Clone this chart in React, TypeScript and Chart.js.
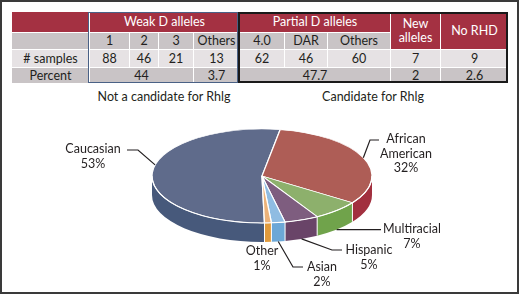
import React, { useEffect, useRef } from "react";
import { Chart, registerables } from "chart.js";

Chart.register(...registerables);

// ---------- table data ----------
const groupTitles = ["Weak D alleles", "Partial D alleles", "New alleles", "No RHD"];
const rowTitles = ["# samples", "Percent"];
const weakAlleles = ["1", "2", "3", "Others"];
const weakSamples = [88, 46, 21, 13];
const weakPercents = ["44", "3.7"];
const partialAlleles = ["4.0", "DAR", "Others"];
const partialSamples = [62, 46, 60];
const partialPercent = "47.7";
const newAlleleSamples = 7;
const newAllelePercent = "2";
const noRhdSamples = 9;
const noRhdPercent = "2.6";
const candidateLabels = ["Not a candidate for Rhlg", "Candidate for Rhlg"];

// ---------- pie data ----------
const ethnicities = ["Caucasian", "African American", "Multiracial", "Hispanic", "Asian", "Other"];
const ethnicPercents = [53, 32, 7, 5, 2, 1];

// ---------- styles ----------
const topColors = ["#5F6B8B", "#AE5D56", "#8DB06C", "#7E5D7F", "#8FBCE2", "#ECB279"];
const sideColors = ["#47597B", "#A2303F", "#70A34B", "#694468", "#6CA7D6", "#E09A3C"];
const CRIMSON = "#A43142";
const GRAY = "#C9C4C6";
const LIGHT = "#E6E2E4";
const TEXT = "#231F20";
const FONT = "Lato, 'Open Sans', sans-serif";
const TABLE_FONT_SIZE = 12.5;

const COLS = [12, 89, 129, 158, 193, 239, 284, 327, 390, 440, 508];
const ROWS = [12, 32, 49, 67, 83];

const CX = 262;
const CY = 176;
const TILT = 47 / 110;
const DEPTH = 19;

type LabelLayout = {
  cx: number;
  y: number;
  split: boolean;
  leader: number[][] | null;
  frac: number;
  edge: "top" | "side";
};

const LABELS: LabelLayout[] = [
  { cx: 93, y: 149, split: false, leader: [[127, 150], [138, 150]], frac: 0.55, edge: "top" },
  { cx: 406, y: 139, split: true, leader: [[379, 140], [370, 140]], frac: 0.5, edge: "top" },
  { cx: 412, y: 229, split: false, leader: [[381, -1]], frac: 0.5, edge: "side" },
  { cx: 369, y: 250, split: false, leader: [[342, 250], [332, 250]], frac: 0.5, edge: "side" },
  { cx: 322, y: 267, split: false, leader: [[303, 267], [293, 267]], frac: 0.5, edge: "side" },
  { cx: 262, y: 251, split: false, leader: null, frac: 0.5, edge: "side" },
];

function norm(a: number) {
  const t = Math.PI * 2;
  return ((a % t) + t) % t;
}

const pie3d = {
  id: "pie3d",
  beforeDatasetsDraw(chart: any) {
    const ctx = chart.ctx as CanvasRenderingContext2D;
    const arcs = chart.getDatasetMeta(0).data as any[];
    ctx.save();
    if (!arcs.length) return;
    const rx = arcs[0].outerRadius;
    const ry = rx * TILT;
    arcs.forEach((arc, i) => {
      const s = norm(arc.startAngle);
      const e = s + (arc.endAngle - arc.startAngle);
      const ranges = [
        [0, Math.PI],
        [2 * Math.PI, 3 * Math.PI],
      ];
      for (const [lo, hi] of ranges) {
        let a1 = Math.max(s, lo);
        let a2 = Math.min(e, hi);
        if (a2 <= a1) continue;
        if (lo > 0) {
          a1 -= 2 * Math.PI;
          a2 -= 2 * Math.PI;
        }
        ctx.beginPath();
        ctx.ellipse(CX, CY, rx, ry, 0, a1, a2, false);
        ctx.lineTo(CX + rx * Math.cos(a2), CY + ry * Math.sin(a2) + DEPTH);
        ctx.ellipse(CX, CY + DEPTH, rx, ry, 0, a2, a1, true);
        ctx.closePath();
        ctx.fillStyle = sideColors[i];
        ctx.fill();
      }
    });
    ctx.strokeStyle = "#ffffff";
    ctx.lineWidth = 1;
    arcs.forEach((arc) => {
      const a = norm(arc.startAngle);
      if (a > 0.02 && a < Math.PI - 0.02) {
        const px = CX + rx * Math.cos(a);
        const py = CY + ry * Math.sin(a);
        ctx.beginPath();
        ctx.moveTo(px, py);
        ctx.lineTo(px, py + DEPTH);
        ctx.stroke();
      }
    });
    const { x, y } = arcs[0];
    ctx.translate(CX, CY);
    ctx.scale(1, TILT);
    ctx.translate(-x, -y);
  },
  afterDatasetsDraw(chart: any) {
    const ctx = chart.ctx as CanvasRenderingContext2D;
    ctx.restore();
    const arcs = chart.getDatasetMeta(0).data as any[];
    if (!arcs.length) return;
    const rx = arcs[0].outerRadius;
    const ry = rx * TILT;
    ctx.save();
    // white rim between top face and side
    ctx.strokeStyle = "#ffffff";
    ctx.lineWidth = 1.1;
    ctx.beginPath();
    ctx.ellipse(CX, CY, rx, ry, 0, 0, Math.PI, false);
    ctx.stroke();

    ctx.fillStyle = TEXT;
    ctx.strokeStyle = TEXT;
    ctx.lineWidth = 1.2;
    ctx.font = `12.5px ${FONT}`;
    ctx.textAlign = "center";
    ctx.textBaseline = "middle";
    arcs.forEach((arc, i) => {
      const L = LABELS[i];
      const name = ethnicities[i];
      const lines = (L.split ? name.split(" ") : [name]).concat([`${ethnicPercents[i]}%`]);
      lines.forEach((t, k) => ctx.fillText(t, L.cx, L.y + k * 14.5));
      if (L.leader) {
        const s = norm(arc.startAngle);
        const a = s + L.frac * (arc.endAngle - arc.startAngle);
        const ax = CX + rx * Math.cos(a);
        const ay = CY + ry * Math.sin(a) + (L.edge === "side" ? DEPTH : 0);
        ctx.beginPath();
        L.leader.forEach(([px, py], k) => {
          const yy = py < 0 ? ay : py;
          if (k === 0) ctx.moveTo(px, yy);
          else ctx.lineTo(px, yy);
        });
        ctx.lineTo(ax, ay);
        ctx.stroke();
      }
    });
    ctx.restore();
  },
};

type CellProps = { c0: number; c1: number; r0: number; r1: number; text: React.ReactNode; bg: string; color?: string };

function Cell({ c0, c1, r0, r1, text, bg, color }: CellProps) {
  return (
    <div
      style={{
        position: "absolute",
        left: COLS[c0] + (c0 === 0 ? 0 : 1),
        top: ROWS[r0] + (r0 === 0 ? 0 : 1),
        width: COLS[c1] - COLS[c0] - (c0 === 0 ? 0 : 1),
        height: ROWS[r1] - ROWS[r0] - (r0 === 0 ? 0 : 1),
        background: bg,
        color: color || TEXT,
        display: "flex",
        alignItems: "center",
        justifyContent: "center",
        textAlign: "center",
        fontSize: TABLE_FONT_SIZE,
        lineHeight: "14px",
      }}
    >
      {text}
    </div>
  );
}

function Table() {
  const cells: CellProps[] = [];
  // header row
  cells.push({ c0: 0, c1: 1, r0: 0, r1: 1, text: "", bg: CRIMSON });
  cells.push({ c0: 1, c1: 5, r0: 0, r1: 1, text: groupTitles[0], bg: CRIMSON, color: "#fff" });
  cells.push({ c0: 5, c1: 8, r0: 0, r1: 1, text: groupTitles[1], bg: CRIMSON, color: "#fff" });
  cells.push({
    c0: 8, c1: 9, r0: 0, r1: 2,
    text: (
      <span>
        {groupTitles[2].split(" ")[0]}
        <br />
        {groupTitles[2].split(" ")[1]}
      </span>
    ),
    bg: CRIMSON, color: "#fff",
  });
  cells.push({ c0: 9, c1: 10, r0: 0, r1: 2, text: groupTitles[3], bg: CRIMSON, color: "#fff" });
  // sub header
  cells.push({ c0: 0, c1: 1, r0: 1, r1: 2, text: "", bg: GRAY });
  weakAlleles.forEach((a, i) => cells.push({ c0: 1 + i, c1: 2 + i, r0: 1, r1: 2, text: a, bg: GRAY }));
  partialAlleles.forEach((a, i) => cells.push({ c0: 5 + i, c1: 6 + i, r0: 1, r1: 2, text: a, bg: GRAY }));
  // samples
  cells.push({ c0: 0, c1: 1, r0: 2, r1: 3, text: rowTitles[0], bg: LIGHT });
  weakSamples.forEach((v, i) => cells.push({ c0: 1 + i, c1: 2 + i, r0: 2, r1: 3, text: String(v), bg: LIGHT }));
  partialSamples.forEach((v, i) => cells.push({ c0: 5 + i, c1: 6 + i, r0: 2, r1: 3, text: String(v), bg: LIGHT }));
  cells.push({ c0: 8, c1: 9, r0: 2, r1: 3, text: String(newAlleleSamples), bg: LIGHT });
  cells.push({ c0: 9, c1: 10, r0: 2, r1: 3, text: String(noRhdSamples), bg: LIGHT });
  // percent
  cells.push({ c0: 0, c1: 1, r0: 3, r1: 4, text: rowTitles[1], bg: GRAY });
  cells.push({ c0: 1, c1: 4, r0: 3, r1: 4, text: weakPercents[0], bg: GRAY });
  cells.push({ c0: 4, c1: 5, r0: 3, r1: 4, text: weakPercents[1], bg: GRAY });
  cells.push({ c0: 5, c1: 8, r0: 3, r1: 4, text: partialPercent, bg: GRAY });
  cells.push({ c0: 8, c1: 9, r0: 3, r1: 4, text: newAllelePercent, bg: GRAY });
  cells.push({ c0: 9, c1: 10, r0: 3, r1: 4, text: noRhdPercent, bg: GRAY });

  return (
    <>
      {cells.map((c, i) => (
        <Cell key={i} {...c} />
      ))}
      <div
        style={{
          position: "absolute",
          left: COLS[1] - 1,
          top: ROWS[0],
          width: COLS[5] - COLS[1],
          height: ROWS[4] - ROWS[0],
          border: "1.5px solid #4A6186",
          boxSizing: "border-box",
        }}
      />
      <div
        style={{
          position: "absolute",
          left: COLS[5] - 1,
          top: ROWS[0],
          width: COLS[10] - COLS[5] + 1,
          height: ROWS[4] - ROWS[0],
          border: "2px solid #1A1A1A",
          boxSizing: "border-box",
        }}
      />
      <div style={{ position: "absolute", left: 164 - 100, width: 200, top: 89, textAlign: "center", fontSize: TABLE_FONT_SIZE, color: TEXT }}>
        {candidateLabels[0]}
      </div>
      <div style={{ position: "absolute", left: 373 - 100, width: 200, top: 89, textAlign: "center", fontSize: TABLE_FONT_SIZE, color: TEXT }}>
        {candidateLabels[1]}
      </div>
    </>
  );
}

export default function App() {
  const canvasRef = useRef<HTMLCanvasElement | null>(null);

  useEffect(() => {
    const canvas = canvasRef.current;
    if (!canvas) return;
    const chart = new Chart(canvas, {
      type: "pie",
      data: {
        labels: ethnicities,
        datasets: [
          {
            data: ethnicPercents,
            backgroundColor: topColors,
            borderColor: "#ffffff",
            borderWidth: 1.3,
          },
        ],
      },
      options: {
        animation: false,
        responsive: false,
        events: [],
        rotation: 178.7,
        radius: 110,
        layout: { padding: 0 },
        plugins: { legend: { display: false }, tooltip: { enabled: false } },
      } as any,
      plugins: [pie3d as any],
    });
    return () => chart.destroy();
  }, []);

  return (
    <div
      style={{
        position: "fixed",
        left: 0,
        top: 0,
        width: 519,
        height: 294,
        border: "2px solid #3A3A3A",
        boxSizing: "border-box",
        background: "#fff",
        fontFamily: FONT,
        overflow: "hidden",
      }}
    >
      <div style={{ position: "absolute", left: -2, top: -2, width: 520, height: 295 }}>
        <Table />
        <canvas
          ref={canvasRef}
          width={520}
          height={295}
          style={{ position: "absolute", left: 0, top: 0, width: 520, height: 295, pointerEvents: "none" }}
        />
      </div>
    </div>
  );
}
